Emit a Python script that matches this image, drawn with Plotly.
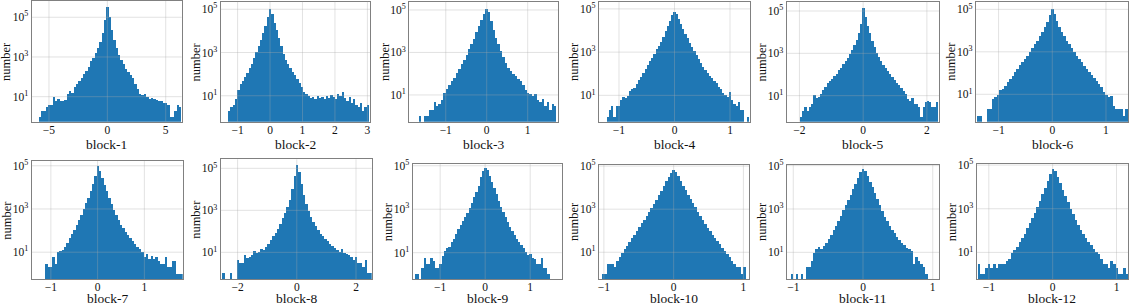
import plotly.graph_objects as go

# ---------------- data (histogram bin counts) ----------------
block_names = ["block-1", "block-2", "block-3", "block-4", "block-5", "block-6",
               "block-7", "block-8", "block-9", "block-10", "block-11", "block-12"]

# first bin left edge and bin width for every block (value axis)
bin_start = [-5.9, -1.30, -1.65, -1.22, -1.995, -1.403,
             -1.125, -2.52, -1.575, -1.0325, -1.0325, -1.18]
bin_width = [0.2, 0.07, 0.06, 0.04, 0.07, 0.046,
             0.05, 0.08, 0.05, 0.035, 0.035, 0.04]

counts_1 = [1, 2, 2, 3, 4, 4, 10, 6, 8, 6, 6, 7, 13, 20, 15, 30, 45, 60, 85, 140,
            200, 320, 600, 900, 1500, 3000, 6000, 17000, 70000, 340000,
            100000, 22000, 7000, 3000, 1300, 700, 420, 260, 180, 130,
            85, 45, 25, 14, 12, 13, 10, 8, 9, 8, 7, 6, 6, 5, 5, 4, 1, 1, 2, 4, 3]
counts_2 = [2, 3, 4, 7, 20, 35, 50, 75, 120, 190, 320, 600, 1100, 2000, 4000, 8000,
            18000, 45000, 110000, 60000, 25000, 11000, 5000, 2000, 900, 480, 300, 190,
            130, 90, 60, 40, 25, 16, 12, 10, 8, 9, 7, 10, 8, 9, 7, 10, 8, 11, 9, 7,
            12, 10, 15, 8, 6, 9, 5, 7, 4, 3, 5, 2, 3, 4]
counts_3 = [1, 0, 1, 1, 2, 2, 5, 3, 4, 6, 13, 20, 32, 45, 65, 110, 180, 300, 450, 800,
            1500, 2600, 4500, 9000, 18000, 35000, 70000, 120000, 80000, 30000,
            12000, 5000, 2500, 1200, 600, 330, 200, 140, 95, 80,
            60, 45, 30, 18, 13, 11, 9, 12, 6, 5, 7, 3, 5, 2, 4, 3]
counts_4 = [1, 2, 3, 1, 3, 3, 6, 8, 7, 9, 15, 19, 22, 32, 48, 70, 110, 170, 260, 380,
            550, 800, 1300, 1900, 3000, 5000, 9000, 16000, 28000, 50000,
            69000, 55000, 35000, 20000, 12000, 7000, 4200, 2700, 1700, 1100,
            700, 450, 300, 200, 150, 110, 80, 60, 45, 35,
            25, 20, 13, 10, 8, 14, 6, 4, 3, 5, 2, 2, 0, 1]
counts_5 = [1, 2, 3, 2, 3, 4, 11, 8, 9, 12, 19, 28, 40, 50, 65, 85, 110, 160, 220, 320,
            450, 650, 1000, 1500, 2600, 4500, 9000, 25000, 150000, 55000,
            20000, 9000, 4000, 2000, 1100, 700, 430, 300, 220, 150,
            110, 80, 55, 40, 32, 24, 17, 12, 7, 6, 8, 4, 4, 3, 1, 3, 5, 6, 5, 3, 3, 5]
counts_6 = [1, 1, 0, 0, 2, 2, 6, 8, 10, 16, 18, 26, 40, 55, 75, 110, 160, 240, 350, 450,
            650, 1000, 1600, 2300, 3500, 5500, 9000, 15000, 26000, 55000,
            110000, 65000, 30000, 16000, 9000, 5500, 3500, 2300, 1500, 1000,
            650, 450, 330, 230, 160, 120, 85, 60, 42, 30,
            24, 14, 10, 8, 9, 3, 2, 2, 2, 1, 2]
counts_7 = [3, 2, 2, 6, 3, 10, 11, 13, 18, 26, 45, 70, 110, 190, 320, 550, 1000, 1800,
            3300, 6500, 14000, 35000, 93000, 55000, 27000, 13000, 6500, 3300, 1700, 900,
            500, 300, 190, 130, 90, 63, 45, 32, 24, 18, 14, 10, 6, 8, 5, 7, 5, 6, 4, 3,
            3, 6, 2, 2, 4, 4, 1, 1, 1]
counts_8 = [1, 0, 0, 1, 0, 0, 4, 3, 3, 7, 5, 6, 7, 11, 9, 10, 14, 13, 18, 25,
            38, 55, 85, 130, 220, 400, 750, 1400, 3000, 10000,
            40000, 140000, 65000, 18000, 5000, 2000, 900, 450, 260, 170,
            110, 75, 55, 40, 32, 25, 20, 15, 12, 10, 14, 9, 8, 7, 6, 4, 6, 3, 3, 2, 4, 1, 1]
counts_9 = [1, 1, 0, 2, 6, 3, 3, 6, 4, 2, 2, 3, 7, 12, 16, 19, 30, 45, 70, 120,
            190, 290, 430, 700, 1100, 1900, 3500, 6500, 12000, 30000,
            55000, 76000, 63000, 35000, 18000, 9000, 4800, 2500, 1300, 750,
            420, 260, 160, 100, 65, 45, 30, 22, 16, 11, 8, 9, 6, 5, 3, 3, 6, 2, 2, 1]
counts_10 = [1, 1, 3, 3, 3, 2, 4, 6, 9, 14, 20, 30, 45, 65, 100, 150, 220, 330, 500, 750,
             1100, 1800, 2800, 4500, 7000, 12000, 20000, 32000, 50000, 65000,
             52000, 33000, 20000, 12500, 7500, 4500, 2900, 1900, 1200, 750,
             500, 320, 210, 140, 95, 65, 45, 32, 24, 16, 11, 8, 6, 4, 3, 2, 2, 1, 2]
counts_11 = [1, 0, 1, 0, 1, 0, 2, 2, 4, 9, 14, 17, 15, 20, 28, 40, 65, 110, 170, 280,
             500, 900, 1500, 2600, 4500, 8000, 15000, 27000, 50000, 70000,
             55000, 33000, 18000, 10000, 5500, 2800, 1500, 800, 450, 270,
             170, 110, 75, 52, 38, 28, 21, 16, 14, 11, 3, 6, 4, 3, 2, 1]
counts_12 = [3, 1, 1, 2, 3, 2, 3, 2, 3, 3, 3, 4, 5, 9, 13, 18, 30, 45, 70, 130,
             220, 380, 650, 1200, 2200, 4500, 9000, 18000, 38000, 63000,
             52000, 30000, 15000, 7500, 3800, 2000, 1000, 550, 300, 180,
             110, 70, 45, 30, 22, 14, 10, 8, 5, 3, 3, 2, 4, 3, 2, 1, 1, 2, 1]

all_counts = [counts_1, counts_2, counts_3, counts_4, counts_5, counts_6,
              counts_7, counts_8, counts_9, counts_10, counts_11, counts_12]

x_tick_values = [[-5, 0, 5], [-1, 0, 1, 2, 3], [-1, 0, 1], [-1, 0, 1], [-2, 0, 2], [-1, 0, 1],
                 [-1, 0, 1], [-2, 0, 2], [-1, 0, 1], [-1, 0, 1], [-1, 0, 1], [-1, 0, 1]]
y_tick_exponents = [1, 3, 5]

# ---------------- layout (pixels / axis ranges) ----------------
W, H = 1130, 306
frames = [  # left, right, top, bottom in px
    (31.7, 181.7, 1.0, 121.7), (220.7, 370.0, 1.7, 121.7), (409.3, 558.0, 1.7, 121.7),
    (599.0, 750.0, 2.2, 121.7), (786.7, 939.0, 1.7, 121.7), (976.0, 1128.0, 1.7, 121.7),
    (31.7, 182.7, 161.0, 279.0), (220.7, 371.7, 159.3, 279.0), (412.7, 561.7, 164.0, 279.0),
    (599.0, 749.0, 165.0, 279.0), (787.0, 939.0, 165.0, 279.0), (976.7, 1128.0, 164.0, 279.0),
]
x_ranges = [[-6.48, 6.37], [-1.52, 3.08], [-1.89, 1.74], [-1.36, 1.36], [-2.40, 2.38], [-1.42, 1.41],
            [-1.41, 1.82], [-2.57, 2.53], [-1.61, 1.70], [-1.07, 1.08], [-1.09, 1.09], [-1.19, 1.18]]
y_ranges = [[-0.26, 5.82], [-0.20, 5.35], [-0.26, 5.39], [-0.22, 5.31], [-0.23, 5.44], [-0.29, 5.36],
            [-0.24, 5.22], [-0.27, 5.43], [-0.21, 5.08], [-0.24, 5.05], [-0.23, 5.03], [-0.22, 5.05]]

BLUE = "#1f77b4"
GRID = "rgba(170,170,170,0.38)"
FRAME = "#808080"
FONT = "Liberation Serif"
TXT = "#111111"


def fmt_tick(v):
    return str(v) if v >= 0 else "\u2212" + str(-v)


fig = go.Figure()
shapes = []
annotations = []
for i in range(12):
    n = i + 1
    xa = "x" if n == 1 else f"x{n}"
    ya = "y" if n == 1 else f"y{n}"
    c = all_counts[i]
    centers = [bin_start[i] + (k + 0.5) * bin_width[i] for k in range(len(c))]
    yvals = [v if v > 0 else None for v in c]
    fig.add_trace(go.Bar(
        x=centers, y=yvals, width=bin_width[i],
        marker=dict(color=BLUE, line=dict(width=0)),
        xaxis=xa, yaxis=ya, showlegend=False, name=block_names[i],
    ))
    l, r, t, b = frames[i]
    axis_common = dict(showgrid=False, zeroline=False, showline=True, mirror=True,
                       linecolor=FRAME, linewidth=1.2, ticks="", ticklen=0, automargin=False,
                       tickfont=dict(family=FONT, size=11.5, color=TXT))
    fig.layout["xaxis" + ("" if n == 1 else str(n))] = dict(
        domain=[l / W, r / W], anchor=ya, range=x_ranges[i],
        tickmode="array", tickvals=x_tick_values[i],
        ticktext=[fmt_tick(v) for v in x_tick_values[i]],
        ticklabelstandoff=-3, **axis_common)
    fig.layout["yaxis" + ("" if n == 1 else str(n))] = dict(
        domain=[1 - b / H, 1 - t / H], anchor=xa, type="log", range=y_ranges[i],
        tickmode="array", tickvals=[10 ** e for e in y_tick_exponents],
        ticktext=[f"10<sup>{e}</sup>" for e in y_tick_exponents],
        ticklabelstandoff=0, **axis_common)

    # grid lines drawn above the bars (as in the reference)
    for v in x_tick_values[i]:
        shapes.append(dict(type="line", xref=xa, yref=f"{ya} domain", x0=v, x1=v, y0=0, y1=1,
                           line=dict(color=GRID, width=0.9), layer="above"))
    lo, hi = y_ranges[i]
    for e in y_tick_exponents:
        fy = (e - lo) / (hi - lo)
        shapes.append(dict(type="line", xref=f"{xa} domain", yref=f"{ya} domain",
                           x0=0, x1=1, y0=fy, y1=fy,
                           line=dict(color=GRID, width=0.9), layer="above"))

    # axis titles
    annotations.append(dict(text=block_names[i], xref=f"{xa} domain", yref=f"{ya} domain",
                            x=0.5, y=0, xanchor="center", yanchor="middle",
                            yshift=-(22.5 if n <= 6 else 19.5), showarrow=False,
                            font=dict(family=FONT, size=13.5, color=TXT)))
    annotations.append(dict(text="number", xref=f"{xa} domain", yref=f"{ya} domain",
                            x=0, y=0.5, xanchor="center", yanchor="middle", textangle=-90,
                            xshift=-25, showarrow=False,
                            font=dict(family=FONT, size=12.5, color=TXT)))

fig.update_layout(
    width=W, height=H, margin=dict(l=0, r=0, t=0, b=0, pad=0, autoexpand=False),
    paper_bgcolor="white", plot_bgcolor="white",
    shapes=shapes, annotations=annotations, bargap=0,
    font=dict(family=FONT, color=TXT),
)

fig.write_html("out.html", config={"displayModeBar": False},
               post_script="document.body.style.margin='0';")
